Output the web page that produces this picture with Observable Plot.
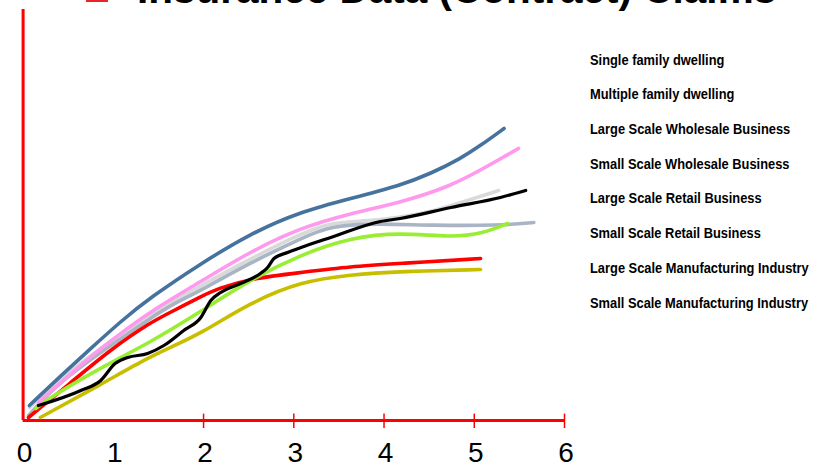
<!DOCTYPE html>
<html><head><meta charset="utf-8">
<script src="https://cdn.jsdelivr.net/npm/d3@7"></script>
<script src="https://cdn.jsdelivr.net/npm/@observablehq/plot@0.6"></script>
<style>
html,body{margin:0;padding:0;background:#fff;}
#wrap{position:relative;width:819px;height:466px;overflow:hidden;}
#title{position:absolute;left:137px;top:-31px;font:bold 40.5px "Liberation Sans",Arial,sans-serif;line-height:40px;white-space:nowrap;color:#000;}
#titleKey{position:absolute;left:86px;top:0;width:22px;height:2px;background:#e8262a;}
#legend{position:absolute;left:590px;top:0;font:bold 15.5px "Liberation Sans",Arial,sans-serif;color:#000;}
#legend div{position:absolute;left:0;white-space:nowrap;line-height:18px;transform:scaleX(0.83);transform-origin:0 0;}
#chart{position:absolute;left:0;top:0;}
</style></head>
<body>
<div id="wrap">
  <div id="chart"></div>
  <div id="titleKey"></div>
  <div id="title">Insurance Data (Contract) Claims</div>
  <div id="legend"></div>
</div>
<script>
const titleText = "Insurance Data (Contract) Claims";
const seriesNames = [
  "Single family dwelling",
  "Multiple family dwelling",
  "Large Scale Wholesale Business",
  "Small Scale Wholesale Business",
  "Large Scale Retail Business",
  "Small Scale Retail Business",
  "Large Scale Manufacturing Industry",
  "Small Scale Manufacturing Industry"
];
const xTickLabels = [0, 1, 2, 3, 4, 5, 6];
const xTickMarks = [2, 3, 4, 5, 6];

// Single family dwelling (steel blue)
const singleFamilyX = [0.07,0.41,0.75,1.08,1.41,1.97,2.52,3.08,3.63,4.18,4.52,4.85,5.07,5.33];
const singleFamilyY = [3.75,11,18,24.75,30.75,39.25,46.75,52.25,55.5,58.75,61.75,65.5,68.75,73];
// Multiple family dwelling (pink)
const multipleFamilyX = [0.17,0.53,0.86,1.08,1.41,1.97,2.52,3.08,3.63,4.18,4.74,5.18,5.49];
const multipleFamilyY = [4.5,11.75,18,21.75,27.25,34.75,42.25,48.25,51.75,54.5,58.5,64,68];
// Large Scale Wholesale Business (light grey)
const largeWholesaleX = [0.07,0.41,1.08,1.63,2.52,3.08,3.41,3.74,4.18,4.52,4.82,5.27];
const largeWholesaleY = [3.25,10.5,21.75,29.5,40.5,46.75,49.5,49.75,50.75,52.25,54.25,57.5];
// Small Scale Wholesale Business (grey blue)
const smallWholesaleX = [0.06,0.41,1.08,1.41,1.63,1.97,2.52,3.08,3.41,3.96,4.52,5.29,5.66];
const smallWholesaleY = [1.25,10,20.5,25.5,28.75,32.5,39.5,45.5,48.75,49.25,48.75,48.75,49.5];
// Large Scale Retail Business (black)
const largeRetailX = [0.17,0.64,0.86,1.02,1.16,1.38,1.56,1.78,1.97,2.08,2.19,2.41,2.63,2.71,2.78,2.93,3.08,3.41,3.96,4.18,4.74,5.29,5.57];
const largeRetailY = [3.75,7.5,10,14.25,15.75,16.75,18.75,22.5,25.75,30,32,34.25,36.75,38.25,40.5,42,43.25,45.75,49.75,50.5,53.25,55.75,57.5];
// Small Scale Retail Business (lime green)
const smallRetailX = [0.14,0.30,0.86,1.41,1.97,2.52,3.08,3.63,4.18,4.74,5.10,5.37];
const smallRetailY = [3,5.75,13.25,19.5,27.25,35.25,41.5,45.75,47,45.75,46.75,49.25];
// Large Scale Manufacturing Industry (red)
const largeManufX = [0.06,0.53,0.97,1.41,1.63,1.97,2.16,2.52,3.08,3.63,4.18,5.07];
const largeManufY = [0.75,9.5,17.75,24.5,27,31,33,35.5,37,38.5,39.25,40.5];
// Small Scale Manufacturing Industry (olive)
const smallManufX = [0.19,0.86,1.41,1.63,1.97,2.52,3.08,3.63,4.18,5.07];
const smallManufY = [0.75,9,16,18.25,21.75,29.5,34.75,36.5,37.25,37.75];

const seriesColors = ["#46729e","#ff99ee","#d9d9d9","#a9b5c4","#000000","#99ee33","#ff0000","#c8be00"];
const seriesX = [singleFamilyX, multipleFamilyX, largeWholesaleX, smallWholesaleX, largeRetailX, smallRetailX, largeManufX, smallManufX];
const seriesY = [singleFamilyY, multipleFamilyY, largeWholesaleY, smallWholesaleY, largeRetailY, smallRetailY, largeManufY, smallManufY];
const drawOrder = [2, 3, 7, 6, 5, 1, 0, 4];

const tables = seriesX.map((xs, i) => xs.map((x, j) => ({x, y: seriesY[i][j], series: seriesNames[i]})));

const lineMarks = drawOrder.map(i => Plot.line(tables[i], {
  x: "x", y: "y", stroke: seriesColors[i], strokeWidth: i === 4 ? 3.2 : 3.6,
  curve: i === 4 ? "monotone-x" : "basis", strokeLinecap: "round", strokeLinejoin: "round"
}));

const chart = Plot.plot({
  width: 819, height: 466,
  marginLeft: 22.6, marginRight: 255, marginTop: 9, marginBottom: 46,
  x: {domain: [0, 6], label: null},
  y: {domain: [0, 102.75], axis: null},
  style: {background: "transparent", overflow: "visible"},
  marks: [
    Plot.ruleX([0], {stroke: "#ff0000", strokeWidth: 3}),
    Plot.ruleY([0], {stroke: "#ff0000", strokeWidth: 3}),
    Plot.ruleX(xTickMarks, {y1: -2, y2: 1.6, stroke: "#ff0000", strokeWidth: 1.5}),
    ...lineMarks,
    Plot.axisX({ticks: xTickLabels, label: null, tickSize: 0, tickPadding: 22, fontSize: 28, fontFamily: '"Liberation Sans",Arial,sans-serif', fill: "#000", tickFormat: d => String(d), dx: 1.5})
  ]
});
document.getElementById("chart").appendChild(chart);
document.getElementById("title").textContent = titleText;

const legend = document.getElementById("legend");
seriesNames.forEach((name, i) => {
  const d = document.createElement("div");
  d.textContent = name;
  d.style.top = (50.6 + i * 34.7) + "px";
  legend.appendChild(d);
});
</script>
</body></html>
